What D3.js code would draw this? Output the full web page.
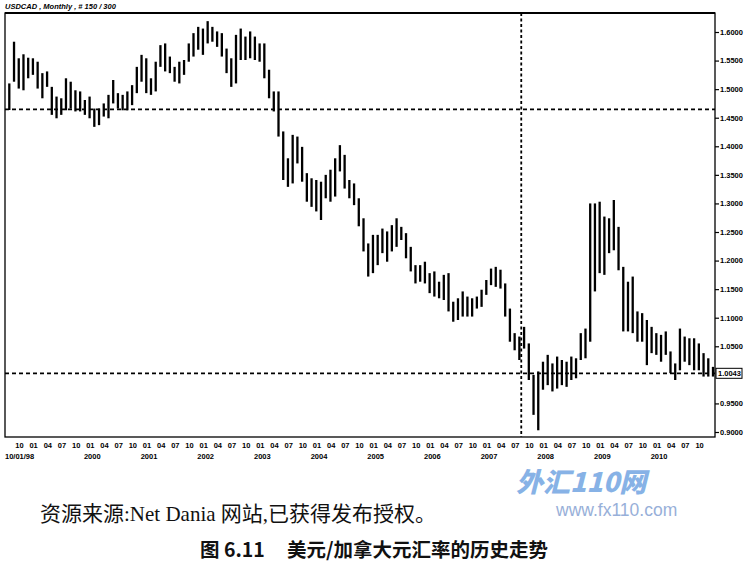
<!DOCTYPE html>
<html><head><meta charset="utf-8">
<script src="https://cdn.jsdelivr.net/npm/d3@7"></script>
<style>
html,body{margin:0;padding:0;background:#fff;}
svg{display:block;}
</style></head>
<body>
<script>
// ---- data (monthly USD/CAD, Jul 1998 .. Dec 2010) ----
const startYear = 1998, startMonth = 6; // July (0-based)
const highs = [
1.510,1.583,1.554,1.561,1.555,1.554,1.548,1.528,1.531,1.504,
1.487,1.484,1.519,1.513,1.498,1.496,1.481,1.487,1.466,1.466,
1.475,1.490,1.516,1.493,1.490,1.496,1.507,1.539,1.560,1.554,
1.519,1.548,1.577,1.580,1.557,1.539,1.548,1.551,1.580,1.598,
1.609,1.606,1.619,1.609,1.601,1.598,1.571,1.554,1.595,1.606,
1.592,1.601,1.592,1.580,1.580,1.534,1.496,1.496,1.426,1.379,
1.420,1.417,1.399,1.353,1.344,1.341,1.338,1.350,1.359,1.379,
1.402,1.385,1.341,1.335,1.309,1.274,1.230,1.245,1.245,1.256,
1.251,1.262,1.274,1.259,1.248,1.224,1.192,1.192,1.198,1.178,
1.181,1.163,1.175,1.178,1.128,1.134,1.146,1.137,1.134,1.137,
1.149,1.166,1.186,1.189,1.184,1.160,1.116,1.073,1.067,1.084,
1.055,1.000,1.006,1.023,1.035,1.020,1.032,1.026,1.023,1.032,
1.029,1.073,1.081,1.300,1.300,1.303,1.277,1.274,1.306,1.259,
1.189,1.163,1.172,1.111,1.108,1.096,1.084,1.073,1.070,1.076,
1.041,1.020,1.081,1.067,1.064,1.064,1.055,1.038,1.029,1.014];
const lows = [
1.4635,1.513,1.501,1.498,1.519,1.525,1.501,1.484,1.504,1.455,
1.449,1.455,1.463,1.466,1.461,1.461,1.455,1.449,1.434,1.437,
1.452,1.449,1.475,1.466,1.463,1.463,1.472,1.493,1.513,1.493,
1.490,1.496,1.539,1.531,1.528,1.513,1.510,1.525,1.548,1.557,
1.569,1.560,1.580,1.583,1.574,1.557,1.528,1.504,1.510,1.551,
1.551,1.554,1.551,1.548,1.519,1.484,1.461,1.417,1.341,1.329,
1.335,1.370,1.338,1.303,1.294,1.286,1.271,1.309,1.303,1.312,
1.356,1.326,1.309,1.297,1.260,1.216,1.172,1.178,1.192,1.213,
1.198,1.216,1.224,1.236,1.204,1.181,1.160,1.163,1.160,1.143,
1.137,1.134,1.131,1.111,1.093,1.096,1.102,1.102,1.102,1.116,
1.119,1.140,1.157,1.154,1.151,1.102,1.058,1.043,1.026,1.046,
0.991,0.930,0.903,0.974,0.982,0.971,0.976,0.982,0.979,0.991,
0.994,1.026,1.029,1.058,1.146,1.178,1.175,1.213,1.218,1.183,
1.076,1.076,1.073,1.058,1.058,1.017,1.038,1.035,1.023,1.035,
1.003,0.991,1.008,1.023,1.017,1.008,1.008,0.997,0.997,0.997];
const yTicks = [1.60,1.55,1.50,1.45,1.40,1.35,1.30,1.25,1.20,1.15,1.10,1.05,0.95,0.90];
const monthLabels = {0:"01",3:"04",6:"07",9:"10"};
const firstLabel = "10/01/98";
const firstLabelIndex = 3;   // Oct 1998
const hLine1 = 1.4647, hLine2 = 1.0027;
const vLineIndex = 108.4;   // crosshair, around Jul/Aug 2007
const priceLabel = "1.0043";
const title = "USDCAD , Monthly , # 150 / 300";
const caption1 = "资源来源:Net Dania 网站,已获得发布授权。";
const caption2a = "图 6.11", caption2b = "美元/加拿大元汇率的历史走势";
const watermark1 = "外汇110网", watermark2 = "www.fx110.com";

const W = 754, H = 563;
const L = 5, R = 715, T = 13, B = 437;
const svg = d3.select("body").append("svg").attr("width", W).attr("height", H);

const n = highs.length;
const bars = d3.range(n).map(i => {
  const m = startMonth + i;
  return {i, year: startYear + Math.floor(m/12), month: m % 12, high: highs[i], low: lows[i]};
});

const x = d3.scaleLinear().domain([0, n-1]).range([9.3, 713]);
const y = d3.scaleLinear().domain([0.9, 1.6]).range([432, 32]);

// watermark (behind)
const wm = svg.append("g").attr("opacity", 0.8);
wm.append("text").attr("x", 516).attr("y", 492)
  .attr("font-family", "Noto Sans CJK SC").attr("font-weight", 900).attr("font-style","italic")
  .attr("font-size", 27).attr("fill", "#6aa0e0").text(watermark1);
wm.append("text").attr("x", 556).attr("y", 516)
  .attr("font-family", "Liberation Sans, Arial").attr("font-size", 17.5)
  .attr("fill", "#7e9cd0").text(watermark2);

// frame
svg.append("rect").attr("x", L).attr("y", T).attr("width", R-L).attr("height", B-T)
  .attr("fill", "none").attr("stroke", "#000").attr("stroke-width", 1.3);
svg.append("line").attr("x1", L).attr("x2", R).attr("y1", T).attr("y2", T)
  .attr("stroke", "#000").attr("stroke-width", 2);

// title
svg.append("text").attr("x", 5).attr("y", 9)
  .attr("font-family", "Liberation Sans, Arial").attr("font-size", 7.5)
  .attr("font-weight", "bold").attr("font-style", "italic").text(title);

// dashed reference lines
const dash = svg.append("g").attr("stroke", "#000").attr("stroke-width", 1.8).attr("stroke-dasharray", "4,3");
[hLine1, hLine2].forEach(v => dash.append("line")
  .attr("x1", L).attr("x2", R).attr("y1", y(v)).attr("y2", y(v)));
dash.append("line").attr("x1", x(vLineIndex)).attr("x2", x(vLineIndex))
  .attr("y1", T).attr("y2", B).attr("stroke-dasharray", "3,2.5");

// OHLC bars (high-low)
svg.append("g").selectAll("line").data(bars).join("line")
  .attr("x1", d => x(d.i)).attr("x2", d => x(d.i))
  .attr("y1", d => y(d.high)).attr("y2", d => y(d.low))
  .attr("stroke", "#000").attr("stroke-width", 2.3);

// right axis
const ax = svg.append("g").attr("transform", `translate(${R},0)`)
  .call(d3.axisRight(y).tickValues(yTicks).tickFormat(d3.format(".4f")).tickSize(4).tickPadding(1));
ax.select(".domain").remove();
ax.selectAll("line").attr("stroke", "#000").attr("stroke-width", 1.2);
ax.selectAll("text").attr("font-family", "Liberation Sans, Arial").attr("font-size", 7.5)
  .attr("font-weight", "bold").attr("fill", "#000");

// current price box
const pg = svg.append("g");
pg.append("rect").attr("x", R+1).attr("y", y(hLine2)-5).attr("width", 26).attr("height", 10)
  .attr("fill", "#fff").attr("stroke", "#000").attr("stroke-width", 1);
pg.append("text").attr("x", R+3).attr("y", y(hLine2)+3)
  .attr("font-family", "Liberation Sans, Arial").attr("font-size", 7.5).attr("font-weight", "bold")
  .text(priceLabel);

// x labels
const xl = svg.append("g").attr("font-family", "Liberation Sans, Arial").attr("font-size", 7.5)
  .attr("font-weight", "bold").attr("fill", "#000");
xl.selectAll("text.m").data(bars.filter(d => d.i >= firstLabelIndex && monthLabels[d.month] !== undefined)).join("text")
  .attr("class", "m").attr("x", d => x(d.i) - 4).attr("y", 448).attr("text-anchor", "middle")
  .text(d => monthLabels[d.month]);
xl.append("text").attr("x", 5).attr("y", 459).text(firstLabel);
xl.selectAll("text.yr").data(bars.filter(d => d.month === 0 && d.year >= 2000)).join("text")
  .attr("class", "yr").attr("x", d => x(d.i) - 2).attr("y", 459).attr("text-anchor", "middle")
  .text(d => d.year);

// captions
svg.append("text").attr("x", 40).attr("y", 521)
  .attr("font-family", "Liberation Serif, 'Noto Sans CJK SC'").attr("font-size", 21)
  .attr("fill", "#111").text(caption1);
const c2 = svg.append("text").attr("y", 557)
  .attr("font-family", "'Noto Sans CJK SC'").attr("font-size", 19.5).attr("font-weight", "bold")
  .attr("fill", "#111");
c2.append("tspan").attr("x", 200).text(caption2a);
c2.append("tspan").attr("x", 287).text(caption2b);
</script>
</body></html>
